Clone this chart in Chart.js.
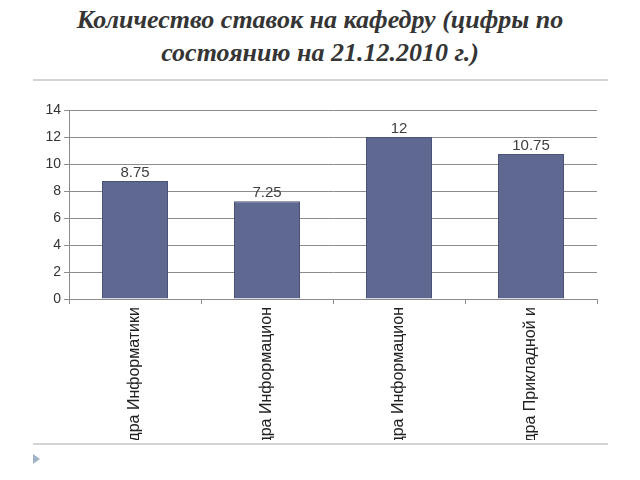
<!DOCTYPE html>
<html>
<head>
<meta charset="utf-8">
<script src="https://cdn.jsdelivr.net/npm/chart.js@4/dist/chart.umd.min.js"></script>
<style>
    body { margin: 0; width: 640px; height: 480px; background: #fff; position: relative; overflow: hidden; }
    #title {
        position: absolute; left: 0; top: 3px; width: 640px; text-align: center;
        font-family: "Liberation Serif", serif; font-style: italic; font-weight: bold;
        font-size: 26px; line-height: 33px; color: #353535;
    }
    .rule { position: absolute; left: 33px; width: 575px; height: 2px; background: #d4d4d4; }
    #bullet {
        position: absolute; left: 33px; top: 454px; width: 0; height: 0;
        border-top: 5px solid transparent; border-bottom: 5px solid transparent;
        border-left: 7px solid #9fb3c8;
    }
    #wrap { position: absolute; left: 0; top: 95px; width: 640px; height: 345px; }
</style>
</head>
<body>
<div id="title">Количество ставок на кафедру (цифры по<br>состоянию на 21.12.2010 г.)</div>
<div class="rule" style="top:79px"></div>
<div class="rule" style="top:443px"></div>
<div id="bullet"></div>
<div id="wrap"><canvas id="chart" width="640" height="345"></canvas></div>
<script>
// кафедры (видимая часть подписей)
var categories = ["дра Информатики", "дра Информацион", "дра Информацион", "дра Прикладной и"];
var stavki = [8.75, 7.25, 12, 10.75];
var y_ticks = [0, 2, 4, 6, 8, 10, 12, 14];

// подписи значений над столбцами
var valueLabels = {
    id: 'valueLabels',
    afterDatasetsDraw: function(chart) {
        var ctx = chart.ctx;
        var meta = chart.getDatasetMeta(0);
        ctx.save();
        ctx.font = '15px "Liberation Sans", Arial, sans-serif';
        ctx.fillStyle = '#404040';
        ctx.textAlign = 'center';
        ctx.textBaseline = 'bottom';
        meta.data.forEach(function(bar, i) {
            ctx.fillText(String(stavki[i]), bar.x, bar.y - 1);
        });
        ctx.restore();
    }
};

var ctx = document.getElementById("chart").getContext("2d");
var myChart = new Chart(ctx, {
    type: 'bar',
    data: {
        labels: categories,
        datasets: [{
            data: stavki,
            backgroundColor: '#5e6890',
            borderColor: '#4b5478',
            borderWidth: 1,
            barPercentage: 0.5,
            categoryPercentage: 1.0,
        }],
    },
    options: {
        responsive: false,
        animation: false,
        layout: {
            padding: { left: 0, right: 43, top: 15, bottom: 0 }
        },
        scales: {
            x: {
                grid: {
                    drawOnChartArea: false,
                    tickLength: 5,
                    color: '#8c8c8c',
                },
                border: { color: '#8c8c8c' },
                ticks: {
                    minRotation: 90,
                    maxRotation: 90,
                    autoSkip: false,
                    padding: 3,
                    color: '#222',
                    font: { family: '"Liberation Sans", Arial, sans-serif', size: 16 },
                },
                afterFit: function(axis) { axis.height = 141; },
            },
            y: {
                min: 0,
                max: 14,
                afterBuildTicks: function(axis) {
                    axis.ticks = y_ticks.map(function(v) { return { value: v }; });
                },
                grid: {
                    color: '#8c8c8c',
                    tickLength: 5,
                },
                border: { color: '#8c8c8c' },
                ticks: {
                    padding: 3,
                    color: '#333',
                    font: { family: '"Liberation Sans", Arial, sans-serif', size: 14 },
                },
                afterFit: function(axis) { axis.width = 69; },
            },
        },
        plugins: {
            legend: { display: false },
            tooltip: { enabled: false },
        },
    },
    plugins: [valueLabels],
});
</script>
</body>
</html>
